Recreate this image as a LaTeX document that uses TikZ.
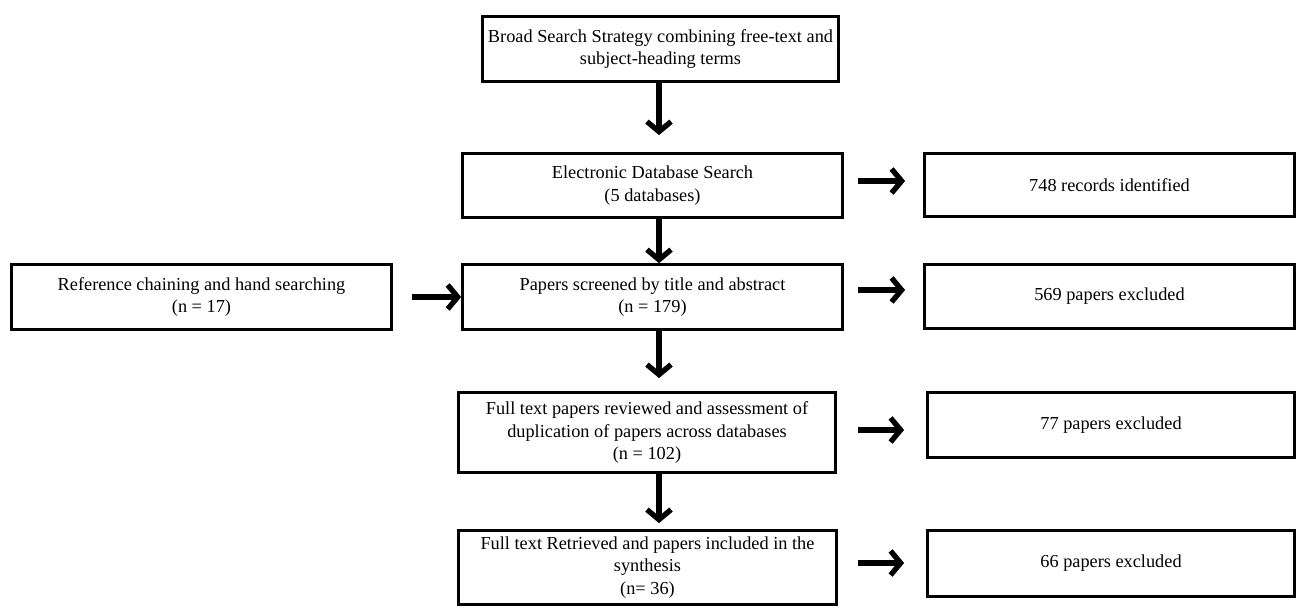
\documentclass[tikz,border=0pt]{standalone}
\usepackage{fontspec}
\setmainfont{Liberation Serif}
\usetikzlibrary{arrows.meta,shadows}
\begin{document}
\begin{tikzpicture}[x=1pt,y=-1pt,
  box/.style={draw=black, line width=2.8pt, fill=white, align=center,
    inner sep=2pt, font=\fontsize{18.3}{22.5}\selectfont,
    drop shadow={shadow xshift=1.2pt, shadow yshift=-1.2pt, fill=black!35, opacity=1}},
  bigarrow/.style={line width=5.2pt, -{Straight Barb[length=10pt,width=24pt,line width=5.2pt]}},
  arrowshadow/.style={bigarrow, draw=black!40}
]
\useasboundingbox (0,0) rectangle (1298,608);
% boxes
\node[box, minimum width=356pt, minimum height=65pt] (b1) at (660.5,49)
  {Broad Search Strategy combining free-text and\\subject-heading terms};
\node[box, minimum width=380pt, minimum height=64pt] (b2) at (652.5,185.5)
  {Electronic Database Search\\(5 databases)};
\node[box, minimum width=380pt, minimum height=65pt] (b3) at (652.5,297)
  {Papers screened by title and abstract\\(n = 179)};
\node[box, minimum width=380pt, minimum height=65pt] (bl) at (201.5,297)
  {Reference chaining and hand searching\\(n = 17)};
\node[box, minimum width=377pt, minimum height=80pt] (b4) at (647,432.5)
  {Full text papers reviewed and assessment of\\duplication of papers across databases\\(n = 102)};
\node[box, minimum width=378pt, minimum height=74pt] (b5) at (647.5,567.5)
  {Full text Retrieved and papers included in the\\synthesis\\(n= 36)};
\node[box, minimum width=370pt, minimum height=63pt] (r1) at (1109.5,185)
  {748 records identified};
\node[box, minimum width=370pt, minimum height=64pt] (r2) at (1109.5,296.5)
  {569 papers excluded};
\node[box, minimum width=367pt, minimum height=65pt] (r3) at (1111,425)
  {77 papers excluded};
\node[box, minimum width=367pt, minimum height=66pt] (r4) at (1111,563.5)
  {66 papers excluded};
% arrow columns / free ends
\coordinate (col) at (659,0);
\coordinate (e1) at (659,135);
\coordinate (e3) at (659,378);
\coordinate (e4) at (659,523);
\coordinate (sl) at (412,297);
\coordinate (s1) at (858,181);
\coordinate (s2) at (858,290);
\coordinate (s3) at (858,430);
\coordinate (s4) at (858,563);
\coordinate (t1) at (905,181);
\coordinate (t2) at (905,290);
\coordinate (t3) at (904,430);
\coordinate (t4) at (904,563);
% arrow shadows
\begin{scope}[shift={(2.2,2.2)}]
\draw[arrowshadow] (b1.south -| col) -- (e1);
\draw[arrowshadow] (b2.south -| col) -- (b3.north -| col);
\draw[arrowshadow] (b3.south -| col) -- (e3);
\draw[arrowshadow] (b4.south -| col) -- (e4);
\draw[arrowshadow] (sl) -- (b3.west |- sl);
\draw[arrowshadow] (s1) -- (t1);
\draw[arrowshadow] (s2) -- (t2);
\draw[arrowshadow] (s3) -- (t3);
\draw[arrowshadow] (s4) -- (t4);
\end{scope}
% arrows
\draw[bigarrow] (b1.south -| col) -- (e1);
\draw[bigarrow] (b2.south -| col) -- (b3.north -| col);
\draw[bigarrow] (b3.south -| col) -- (e3);
\draw[bigarrow] (b4.south -| col) -- (e4);
\draw[bigarrow] (sl) -- (b3.west |- sl);
\draw[bigarrow] (s1) -- (t1);
\draw[bigarrow] (s2) -- (t2);
\draw[bigarrow] (s3) -- (t3);
\draw[bigarrow] (s4) -- (t4);
\end{tikzpicture}
\end{document}
